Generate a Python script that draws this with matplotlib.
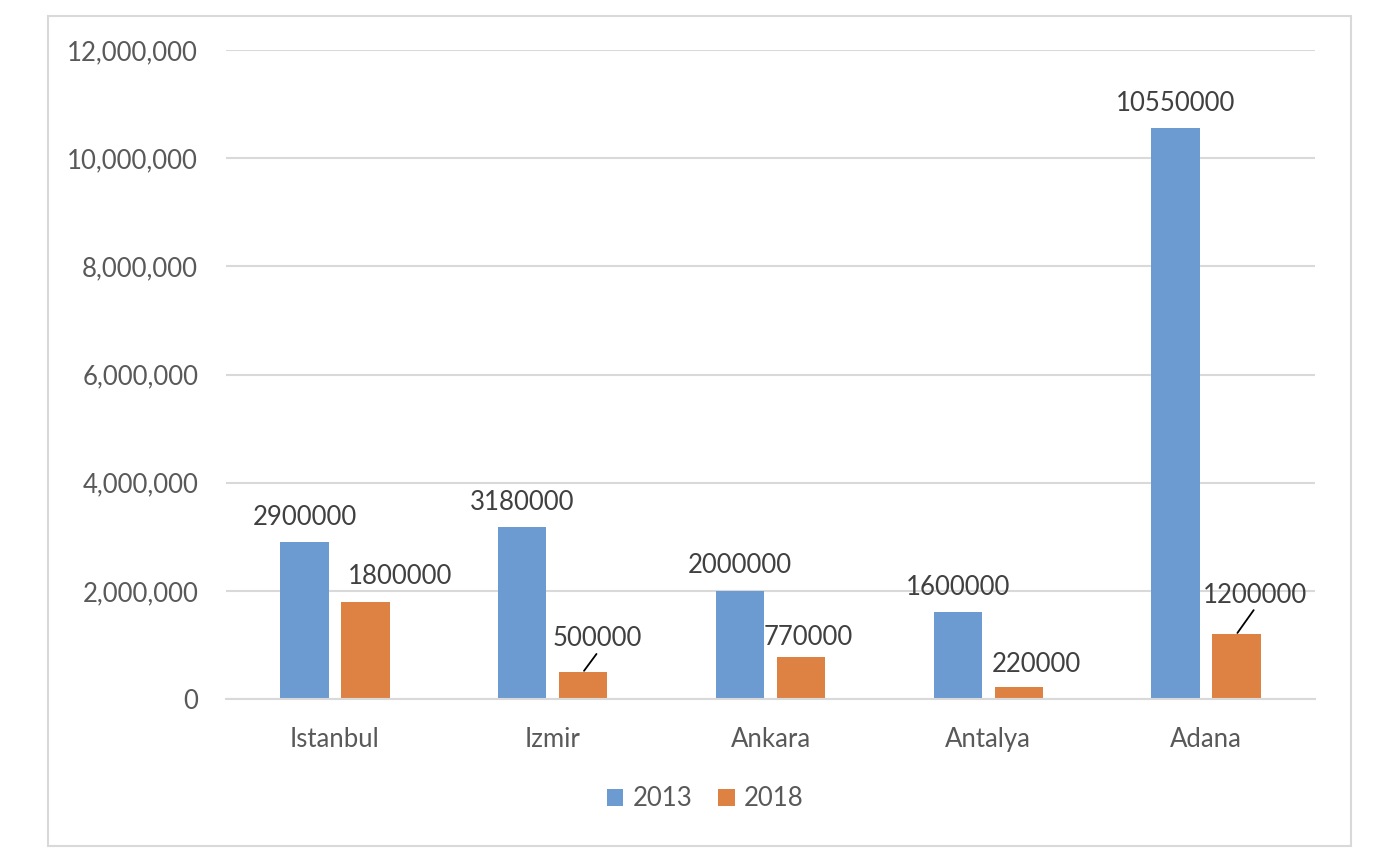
import numpy as np
import matplotlib
matplotlib.use("Agg")
from matplotlib import pyplot as plt
from matplotlib.patches import Rectangle
from matplotlib.ticker import FuncFormatter

plt.rcParams['font.family'] = ['Lato', 'DejaVu Sans']

"""data"""
cities = ['Istanbul', 'Izmir', 'Ankara', 'Antalya', 'Adana']
years = ['2013', '2018']
values_2013 = [2900000, 3180000, 2000000, 1600000, 10550000]
values_2018 = [1800000, 500000, 770000, 220000, 1200000]

"""style"""
c2013 = '#6b9bd1'
c2018 = '#de8244'
grid_c = '#d9d9d9'
txt_c = '#404040'
tick_c = '#595959'
# label offsets in pixels (dx, dy of label centre from bar top), leader flag
off_2013 = [(0, 25, False)] * 5
off_2018 = [(35, 25, False), (14, 33, True), (7, 20, False), (18, 23, False), (18, 39, True)]

fig = plt.figure(figsize=(13.92, 8.68), dpi=100)
ax = fig.add_axes([226 / 1392, 1 - 699 / 868, 1089 / 1392, 649 / 868])

x = np.arange(len(cities))
w = 0.222
d = 0.14
b1 = ax.bar(x - d, values_2013, w, color=c2013, label=years[0], zorder=2)
b2 = ax.bar(x + d, values_2018, w, color=c2018, label=years[1], zorder=2)

ax.set_xlim(-0.5, len(cities) - 0.5)
ax.set_ylim(0, 12000000)
ax.set_yticks(np.arange(0, 12000001, 2000000))
ax.yaxis.set_major_formatter(FuncFormatter(lambda v, p: '0' if v == 0 else '{:,.0f}'.format(v)))
ax.set_xticks(x)
ax.set_xticklabels(cities)
ax.tick_params(axis='both', length=0, labelsize=18.5, labelcolor=tick_c)
ax.tick_params(axis='y', pad=20)
ax.tick_params(axis='x', pad=20)
ax.grid(axis='y', color=grid_c, linewidth=1.5, zorder=0)
for s in ['top', 'right', 'left']:
    ax.spines[s].set_visible(False)
ax.spines['bottom'].set_color(grid_c)
ax.spines['bottom'].set_linewidth(1.5)
ax.spines['bottom'].set_zorder(3)


def label_bars(xs, vals, offs):
    for xi, v, (dx, dy, leader) in zip(xs, vals, offs):
        ax.annotate(str(v), (xi, v), xytext=(dx, dy), textcoords='offset pixels',
                    ha='center', va='center', fontsize=18.5, color=txt_c, zorder=4)
        if leader:
            ax.annotate('', (xi, v), xytext=(dx * 0.95, dy - 15), textcoords='offset pixels',
                        arrowprops=dict(arrowstyle='-', color='black', lw=1.3,
                                        shrinkA=0, shrinkB=1))


label_bars(x - d, values_2013, off_2013)
label_bars(x + d, values_2018, off_2018)

ax.legend(loc='center', bbox_to_anchor=(705 / 1392, 1 - 799 / 868),
          bbox_transform=fig.transFigure, ncol=2, frameon=False, fontsize=18.5,
          labelcolor=tick_c, handlelength=0.65, handleheight=0.65,
          handletextpad=0.35, columnspacing=1.0)

fig.add_artist(Rectangle((48 / 1392, 1 - 846 / 868), 1303 / 1392, 830 / 868,
                         transform=fig.transFigure, fill=False,
                         edgecolor=grid_c, linewidth=1.5))

plt.savefig('out.png', dpi=100)
